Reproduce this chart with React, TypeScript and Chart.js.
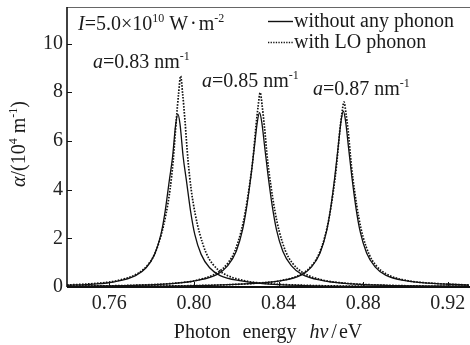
import React, { useEffect, useRef } from 'react';
import { Chart, registerables } from 'chart.js';

Chart.register(...registerables);

// ---- axis ticks ----
const xTicks = [0.76, 0.8, 0.84, 0.88, 0.92];
const yTicks = [0, 2, 4, 6, 8, 10];

// ---- a = 0.83 nm^-1, without any phonon ----
const s1X = [0.74, 0.7524, 0.7624, 0.7724, 0.7774, 0.7814, 0.7844, 0.7864, 0.7884, 0.7899, 0.7914, 0.7924, 0.7934, 0.7949, 0.7964, 0.7984, 0.8004, 0.8034, 0.8074, 0.8124, 0.8224, 0.8324, 0.8524, 0.8824, 0.93];
const s1Y = [0.072, 0.12, 0.215, 0.47, 0.79, 1.34, 2.16, 3.12, 4.4, 5.35, 6.7, 7.1, 6.7, 5.35, 4.4, 3.12, 2.16, 1.34, 0.79, 0.47, 0.25, 0.14, 0.06, 0.025, 0.011];
// ---- a = 0.83 nm^-1, with LO phonon ----
const d1X = [0.74, 0.7537, 0.7637, 0.7737, 0.7787, 0.7817, 0.7847, 0.7867, 0.7887, 0.7902, 0.7917, 0.7927, 0.7937, 0.7947, 0.7957, 0.7972, 0.7987, 0.8007, 0.8027, 0.8057, 0.8087, 0.8137, 0.8237, 0.8337, 0.8537, 0.8837, 0.93];
const d1Y = [0.083, 0.149, 0.262, 0.57, 0.96, 1.41, 2.2, 2.95, 4.0, 5.2, 6.9, 7.9, 8.66, 7.9, 6.9, 5.2, 4.0, 2.95, 2.2, 1.41, 0.96, 0.57, 0.262, 0.149, 0.067, 0.03, 0.013];

// ---- a = 0.85 nm^-1, without any phonon ----
const s2X = [0.74, 0.771, 0.791, 0.801, 0.811, 0.816, 0.82, 0.823, 0.825, 0.827, 0.8285, 0.83, 0.831, 0.832, 0.8335, 0.835, 0.837, 0.839, 0.842, 0.846, 0.851, 0.861, 0.871, 0.891, 0.93];
const s2Y = [0.027, 0.07, 0.15, 0.26, 0.52, 0.876, 1.47, 2.355, 3.33, 4.6, 5.7, 6.8, 7.16, 6.8, 5.7, 4.6, 3.33, 2.355, 1.47, 0.876, 0.52, 0.26, 0.15, 0.07, 0.025];
// ---- a = 0.85 nm^-1, with LO phonon ----
const d2X = [0.74, 0.7713, 0.7913, 0.8013, 0.8113, 0.8163, 0.8193, 0.8223, 0.8243, 0.8263, 0.8278, 0.8293, 0.8303, 0.8313, 0.8323, 0.8333, 0.8348, 0.8363, 0.8383, 0.8403, 0.8433, 0.8463, 0.8513, 0.8613, 0.8713, 0.8913, 0.93];
const d2Y = [0.031, 0.071, 0.159, 0.278, 0.6, 1.01, 1.47, 2.29, 3.1, 4.2, 5.2, 6.6, 7.4, 7.98, 7.4, 6.6, 5.2, 4.2, 3.1, 2.29, 1.47, 1.01, 0.6, 0.278, 0.159, 0.071, 0.0265];

// ---- a = 0.87 nm^-1, without any phonon ----
const s3X = [0.74, 0.7706, 0.8106, 0.8306, 0.8406, 0.8506, 0.8556, 0.8596, 0.8626, 0.8646, 0.8666, 0.8681, 0.8696, 0.8706, 0.8716, 0.8731, 0.8746, 0.8766, 0.8786, 0.8816, 0.8856, 0.8906, 0.9006, 0.9106, 0.93];
const s3Y = [0.02, 0.03, 0.08, 0.16, 0.25, 0.49, 0.83, 1.4, 2.26, 3.23, 4.55, 5.7, 6.85, 7.22, 6.85, 5.7, 4.55, 3.23, 2.26, 1.4, 0.83, 0.49, 0.25, 0.16, 0.08];
// ---- a = 0.87 nm^-1, with LO phonon ----
const d3X = [0.74, 0.7709, 0.8109, 0.8309, 0.8409, 0.8509, 0.8559, 0.8589, 0.8619, 0.8639, 0.8659, 0.8674, 0.8689, 0.8699, 0.8709, 0.8719, 0.8729, 0.8744, 0.8759, 0.8779, 0.8799, 0.8829, 0.8859, 0.8909, 0.9009, 0.9109, 0.93];
const d3Y = [0.02, 0.03, 0.08, 0.165, 0.26, 0.535, 0.9, 1.32, 2.07, 2.85, 3.95, 5.0, 6.4, 7.1, 7.6, 7.1, 6.4, 5.0, 3.95, 2.85, 2.07, 1.32, 0.9, 0.535, 0.26, 0.165, 0.08];

const legendLabels = ['without any phonon', 'with LO phonon'];
const peakLabels = ['0.83', '0.85', '0.87'];

const FONT = '"Liberation Serif", "Times New Roman", serif';
const FS = 20;

type Part = { t?: string; i?: boolean; sup?: boolean; gap?: number };

function richWidth(ctx: CanvasRenderingContext2D, parts: Part[], size: number) {
  let w = 0;
  for (const p of parts) {
    if (p.gap) { w += p.gap; continue; }
    const fs = p.sup ? Math.round(size * 0.6) : size;
    ctx.font = `${p.i ? 'italic ' : ''}${fs}px ${FONT}`;
    w += ctx.measureText(p.t || '').width;
  }
  return w;
}

function drawRich(ctx: CanvasRenderingContext2D, x: number, y: number, parts: Part[], size: number) {
  let cx = x;
  for (const p of parts) {
    if (p.gap) { cx += p.gap; continue; }
    const fs = p.sup ? Math.round(size * 0.6) : size;
    ctx.font = `${p.i ? 'italic ' : ''}${fs}px ${FONT}`;
    const dy = p.sup ? -size * 0.42 : 0;
    ctx.fillText(p.t || '', cx, y + dy);
    cx += ctx.measureText(p.t || '').width;
  }
}

const decorPlugin = {
  id: 'decor',
  afterDraw(chart: any) {
    const ctx: CanvasRenderingContext2D = chart.ctx;
    const { left, right, top, bottom } = chart.chartArea;
    const xs = chart.scales.x;
    const ys = chart.scales.y;
    ctx.save();
    // frame
    ctx.strokeStyle = '#666';
    ctx.lineWidth = 1.2;
    ctx.beginPath();
    ctx.moveTo(left, top + 0.5);
    ctx.lineTo(right + 1, top + 0.5);
    ctx.stroke();
    ctx.strokeStyle = '#111';
    ctx.lineWidth = 1.6;
    ctx.beginPath();
    ctx.moveTo(left, top);
    ctx.lineTo(left, bottom);
    ctx.stroke();
    ctx.lineWidth = 2;
    ctx.beginPath();
    ctx.moveTo(left, bottom);
    ctx.lineTo(right + 1, bottom);
    ctx.stroke();
    // inward ticks
    ctx.lineWidth = 1;
    ctx.beginPath();
    for (const v of xTicks) {
      const px = Math.round(xs.getPixelForValue(v)) + 0.5;
      ctx.moveTo(px, bottom);
      ctx.lineTo(px, bottom - 5);
    }
    for (const v of yTicks) {
      const py = Math.round(ys.getPixelForValue(v)) + 0.5;
      ctx.moveTo(left, py);
      ctx.lineTo(left + 5, py);
    }
    ctx.stroke();

    ctx.fillStyle = '#1a1a1a';
    ctx.textBaseline = 'alphabetic';
    ctx.textAlign = 'left';

    // x axis title
    const xt: Part[] = [
      { t: 'Photon' }, { gap: 12 }, { t: 'energy' }, { gap: 13 },
      { t: 'h\u03bd', i: true }, { gap: 3 }, { t: '/' }, { gap: 2 }, { t: 'eV' },
    ];
    const xw = richWidth(ctx, xt, FS);
    drawRich(ctx, (left + right) / 2 - xw / 2, 338, xt, FS);

    // y axis title
    const yt: Part[] = [
      { t: '\u03b1', i: true }, { t: '/(10' }, { t: '4', sup: true }, { t: ' m' }, { t: '-1', sup: true }, { t: ')' },
    ];
    const yw = richWidth(ctx, yt, FS);
    ctx.save();
    ctx.translate(25, 144);
    ctx.rotate(-Math.PI / 2);
    drawRich(ctx, -yw / 2, 0, yt, FS);
    ctx.restore();

    // intensity annotation
    drawRich(ctx, 78, 30, [
      { t: 'I', i: true }, { t: '=5.0\u00d710' }, { t: '10', sup: true }, { t: ' W' }, { gap: 2 }, { t: '\u00b7' }, { gap: 2 }, { t: 'm' }, { t: '-2', sup: true },
    ], FS);

    // peak labels
    const pos = [[93, 68], [202, 87], [313, 95]];
    peakLabels.forEach((lab, k) => {
      drawRich(ctx, pos[k][0], pos[k][1], [
        { t: 'a', i: true }, { t: '=' + lab + ' nm' }, { t: '-1', sup: true },
      ], FS);
    });

    // legend
    ctx.strokeStyle = '#111';
    ctx.lineWidth = 1.4;
    ctx.setLineDash([]);
    ctx.beginPath();
    ctx.moveTo(268, 21.5);
    ctx.lineTo(293, 21.5);
    ctx.stroke();
    ctx.lineWidth = 1.4;
    ctx.setLineDash([1.3, 1.3]);
    ctx.beginPath();
    ctx.moveTo(268, 42.5);
    ctx.lineTo(293, 42.5);
    ctx.stroke();
    ctx.setLineDash([]);
    drawRich(ctx, 294, 27, [{ t: legendLabels[0] }], FS);
    drawRich(ctx, 294, 48, [{ t: legendLabels[1] }], FS);

    ctx.restore();
  },
};

function mk(xs: number[], ys: number[], dotted: boolean) {
  return {
    data: xs.map((x, i) => ({ x, y: ys[i] })),
    borderColor: '#111',
    borderWidth: dotted ? 1.7 : 1.3,
    borderDash: dotted ? [1.6, 1.4] : [],
    pointRadius: 0,
    fill: false,
    tension: 0,
    cubicInterpolationMode: 'monotone' as const,
  };
}

export default function App() {
  const ref = useRef<HTMLCanvasElement | null>(null);
  useEffect(() => {
    document.body.style.margin = '0';
    if (!ref.current) return;
    const tickFont = { family: FONT, size: FS };
    const chart = new Chart(ref.current, {
      type: 'line',
      data: {
        datasets: [
          mk(s1X, s1Y, false),
          mk(s2X, s2Y, false),
          mk(s3X, s3Y, false),
          mk(d1X, d1Y, true),
          mk(d2X, d2Y, true),
          mk(d3X, d3Y, true),
        ],
      },
      options: {
        animation: false,
        responsive: false,
        devicePixelRatio: 1,
        layout: { padding: { top: 7, right: 1, left: 0, bottom: 0 } },
        plugins: { legend: { display: false }, tooltip: { enabled: false } },
        scales: {
          x: {
            type: 'linear',
            min: 0.74,
            max: 0.93,
            grid: { display: false, drawTicks: false },
            border: { display: false },
            afterBuildTicks: (s: any) => { s.ticks = xTicks.map((v) => ({ value: v })); },
            afterFit: (s: any) => { s.height = 58; s.paddingLeft = 0; s.paddingRight = 0; },
            ticks: {
              font: tickFont,
              color: '#222',
              padding: 5,
              maxRotation: 0,
              autoSkip: false,
              callback: (v: any) => Number(v).toFixed(2),
            },
          },
          y: {
            type: 'linear',
            min: 0,
            max: 11.5,
            grid: { display: false, drawTicks: false },
            border: { display: false },
            afterBuildTicks: (s: any) => { s.ticks = yTicks.map((v) => ({ value: v })); },
            afterFit: (s: any) => { s.width = 67; s.paddingTop = 0; s.paddingBottom = 0; },
            ticks: {
              font: tickFont,
              color: '#222',
              padding: 4,
              autoSkip: false,
              callback: (v: any) => String(v),
            },
          },
        },
      },
      plugins: [decorPlugin],
    });
    return () => chart.destroy();
  }, []);
  return (
    <div style={{ position: 'absolute', left: 0, top: 0, width: 470, height: 345, background: '#fff' }}>
      <canvas ref={ref} width={470} height={345} />
    </div>
  );
}
